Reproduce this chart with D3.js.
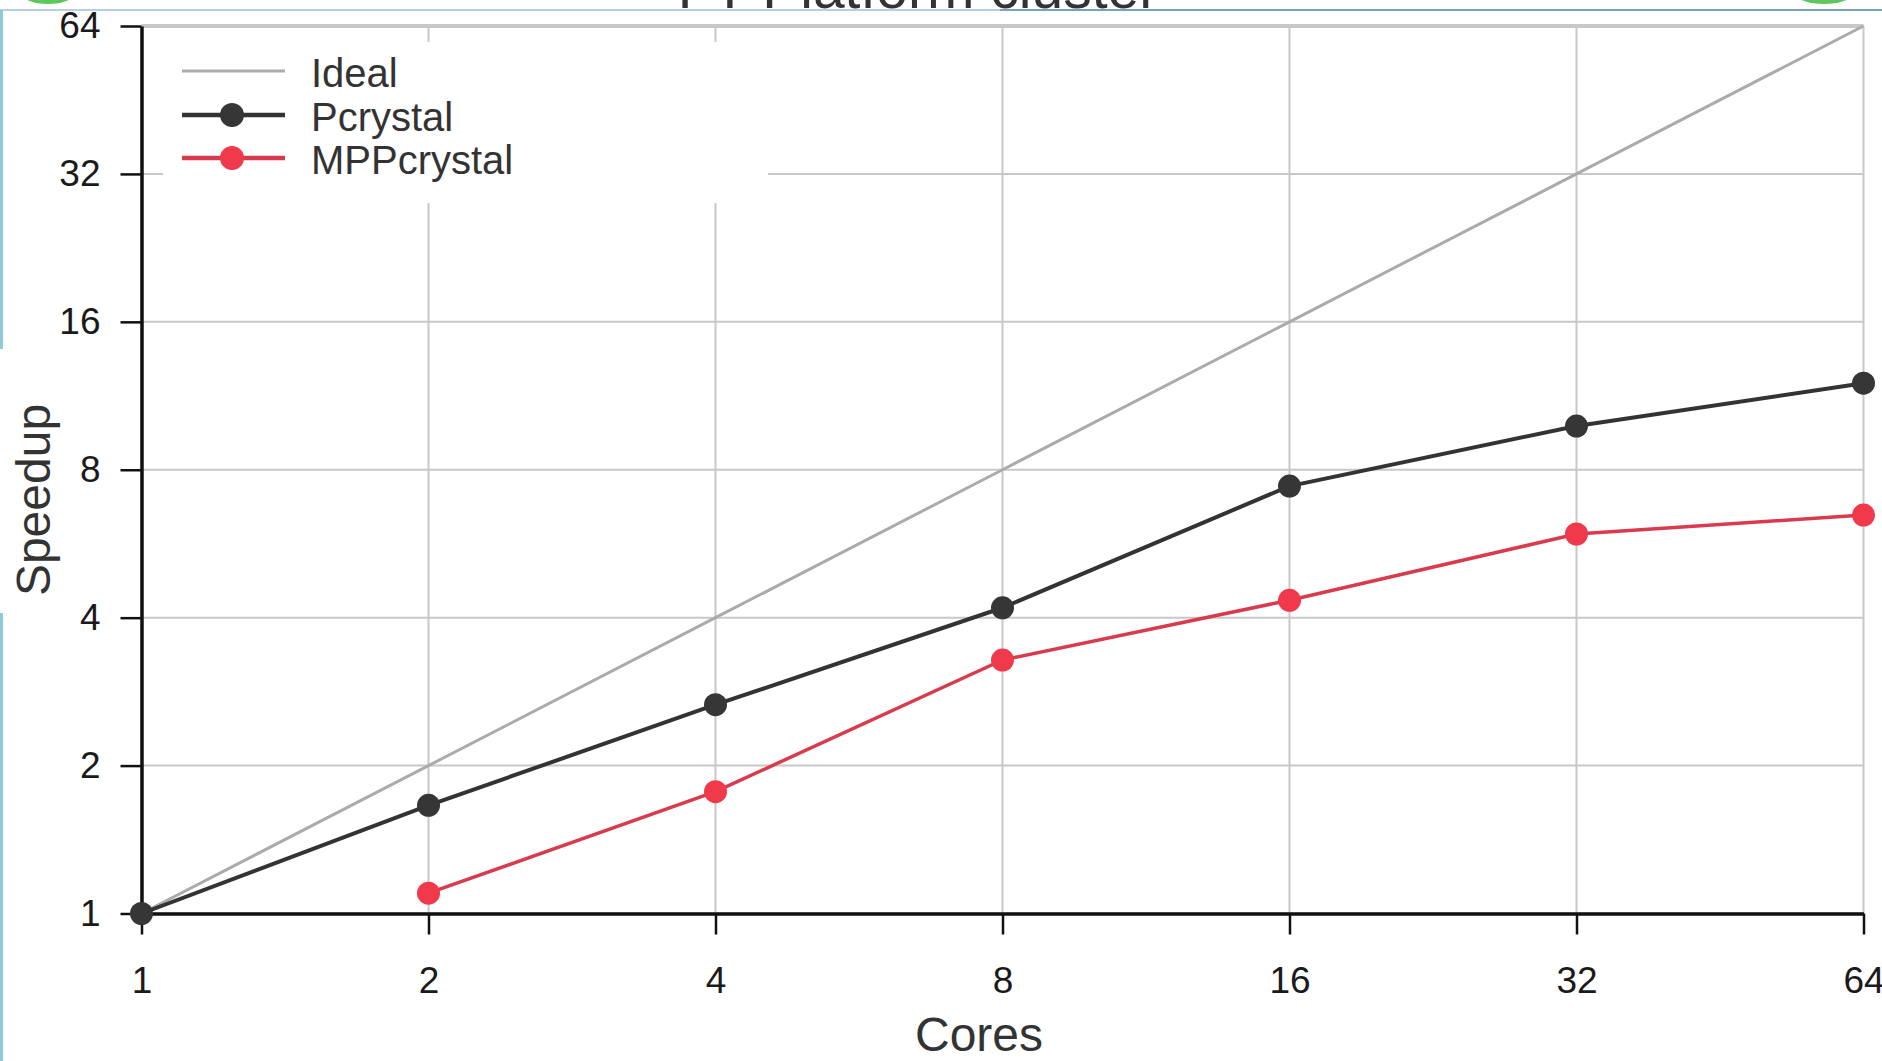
<!DOCTYPE html>
<html>
<head>
<meta charset="utf-8">
<script src="https://cdn.jsdelivr.net/npm/d3@7"></script>
<style>
  html, body { margin: 0; padding: 0; background: #fff; overflow: hidden; }
  svg { display: block; font-family: "Liberation Sans", Arial, sans-serif; }
</style>
</head>
<body>
<svg id="chart" width="1882" height="1061"></svg>
<script>
// ---- Data ----
const cores = [1, 2, 4, 8, 16, 32, 64];
const idealSpeedup = [1, 2, 4, 8, 16, 32, 64];
const pcrystalSpeedup = [1, 1.66, 2.66, 4.19, 7.41, 9.82, 12.0];
const mppCores = [2, 4, 8, 16, 32, 64];
const mppcrystalSpeedup = [1.10, 1.77, 3.28, 4.34, 5.92, 6.47];
const xTickValues = [1, 2, 4, 8, 16, 32, 64];
const yTickValues = [1, 2, 4, 8, 16, 32, 64];
const seriesNames = ["Ideal", "Pcrystal", "MPPcrystal"];
const titleText = "FT Platform cluster";
const xTitle = "Cores";
const yTitle = "Speedup";

// ---- Setup ----
const svg = d3.select("#chart");
const W = 1882, H = 1061;
const x = d3.scaleLog().base(2).domain([1, 64]).range([141.5, 1863.5]);
const y = d3.scaleLog().base(2).domain([1, 64]).range([913.5, 26]);

const colors = { Ideal: "#ababab", Pcrystal: "#333333", MPPcrystal: "#d93b4e" };
const pointColors = { Pcrystal: "#363636", MPPcrystal: "#f03a4c" };

svg.append("rect").attr("width", W).attr("height", H).attr("fill", "#fff");

// Frame decorations from the screenshot
svg.append("ellipse").attr("cx", 48).attr("cy", -6).attr("rx", 26).attr("ry", 10).attr("fill", "#5cc85c");
svg.append("ellipse").attr("cx", 1824).attr("cy", -6).attr("rx", 28).attr("ry", 10).attr("fill", "#5cc85c");

// Title (mostly cut off at top, as in the reference)
svg.append("text").attr("x", 918).attr("y", 8).attr("text-anchor", "middle")
  .attr("font-size", 57).attr("fill", "#333").text(titleText);

svg.append("rect").attr("x", 0).attr("y", 10).attr("width", W).attr("height", H - 10).attr("fill", "#fff");
svg.append("line").attr("x1", 0).attr("x2", 1000).attr("y1", 10).attr("y2", 10)
  .attr("stroke", "#b8cfe3").attr("stroke-width", 2);
svg.append("line").attr("x1", 1000).attr("x2", W).attr("y1", 10).attr("y2", 10)
  .attr("stroke", "#7e9fc2").attr("stroke-width", 2);
svg.append("line").attr("x1", 1.5).attr("x2", 1.5).attr("y1", 10).attr("y2", 349)
  .attr("stroke", "#8fcbd0").attr("stroke-width", 3);
svg.append("line").attr("x1", 1.5).attr("x2", 1.5).attr("y1", 613).attr("y2", H)
  .attr("stroke", "#8fcbd0").attr("stroke-width", 3);

// ---- Grid ----
const grid = svg.append("g");
grid.selectAll("line.v").data(xTickValues).join("line")
  .attr("x1", d => x(d)).attr("x2", d => x(d))
  .attr("y1", y(64)).attr("y2", y(1))
  .attr("stroke", "#c8c8c8").attr("stroke-width", 2);
grid.selectAll("line.h").data(yTickValues).join("line")
  .attr("x1", x(1)).attr("x2", x(64))
  .attr("y1", d => y(d)).attr("y2", d => y(d))
  .attr("stroke", "#c8c8c8").attr("stroke-width", d => d === 64 ? 4 : 2);

// Legend background covering grid
svg.append("rect").attr("x", 163).attr("y", 42).attr("width", 605).attr("height", 161).attr("fill", "#fff");

// ---- Axes ----
const xAxis = d3.axisBottom(x).tickValues(xTickValues).tickFormat(d3.format("d"))
  .tickSize(21).tickPadding(32).tickSizeOuter(0);
const gx = svg.append("g").attr("transform", `translate(0,${y(1)})`).call(xAxis);
gx.select(".domain").attr("stroke", "#111").attr("stroke-width", 3.5);
gx.selectAll(".tick line").attr("stroke", "#111").attr("stroke-width", 2.5);
gx.selectAll(".tick text").attr("font-size", 37).attr("fill", "#1a1a1a")
  .attr("font-family", "Liberation Sans, Arial, sans-serif");

const yAxis = d3.axisLeft(y).tickValues(yTickValues).tickFormat(d3.format("d"))
  .tickSize(21).tickPadding(20).tickSizeOuter(0);
const gy = svg.append("g").attr("transform", `translate(${x(1)},0)`).call(yAxis);
gy.select(".domain").attr("stroke", "#111").attr("stroke-width", 3.5);
gy.selectAll(".tick line").attr("stroke", "#111").attr("stroke-width", 2.5);
gy.selectAll(".tick text").attr("font-size", 37).attr("fill", "#1a1a1a")
  .attr("font-family", "Liberation Sans, Arial, sans-serif");

// Axis titles
svg.append("text").attr("x", 979).attr("y", 1051).attr("text-anchor", "middle")
  .attr("font-size", 48).attr("fill", "#333").text(xTitle);
svg.append("text").attr("transform", "translate(50,500) rotate(-90)").attr("text-anchor", "middle")
  .attr("font-size", 48).attr("fill", "#333").text(yTitle);

// ---- Series ----
const line = d3.line().x(d => x(d[0])).y(d => y(d[1]));
const idealData = d3.zip(cores, idealSpeedup);
const pData = d3.zip(cores, pcrystalSpeedup);
const mData = d3.zip(mppCores, mppcrystalSpeedup);

svg.append("path").datum(idealData).attr("d", line).attr("fill", "none")
  .attr("stroke", colors.Ideal).attr("stroke-width", 3);
svg.append("path").datum(pData).attr("d", line).attr("fill", "none")
  .attr("stroke", colors.Pcrystal).attr("stroke-width", 4).attr("stroke-linejoin", "round");
svg.append("path").datum(mData).attr("d", line).attr("fill", "none")
  .attr("stroke", colors.MPPcrystal).attr("stroke-width", 3.5).attr("stroke-linejoin", "round");

svg.selectAll("circle.p").data(pData).join("circle")
  .attr("cx", d => x(d[0])).attr("cy", d => y(d[1])).attr("r", 11.5).attr("fill", pointColors.Pcrystal);
svg.selectAll("circle.m").data(mData).join("circle")
  .attr("cx", d => x(d[0])).attr("cy", d => y(d[1])).attr("r", 11.5).attr("fill", pointColors.MPPcrystal);

// ---- Legend ----
const legendY = [71, 115, 158];
const lg = svg.append("g");
seriesNames.forEach((name, i) => {
  const ly = legendY[i];
  lg.append("line").attr("x1", 182).attr("x2", 285).attr("y1", ly).attr("y2", ly)
    .attr("stroke", colors[name]).attr("stroke-width", name === "Ideal" ? 3 : 4.5);
  if (name !== "Ideal") {
    lg.append("circle").attr("cx", 232).attr("cy", ly).attr("r", 12).attr("fill", pointColors[name]);
  }
  lg.append("text").attr("x", 311).attr("y", ly + 16).attr("font-size", 40)
    .attr("fill", "#333").text(name);
});
</script>
</body>
</html>
